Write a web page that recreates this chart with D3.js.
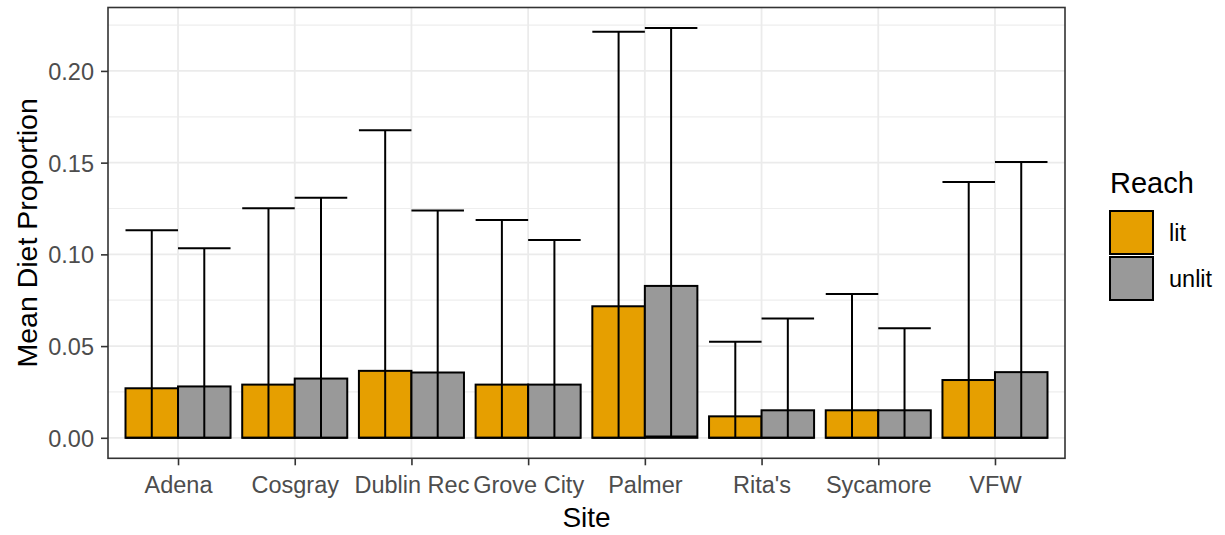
<!DOCTYPE html>
<html>
<head>
<meta charset="utf-8">
<script src="https://cdn.jsdelivr.net/npm/d3@7"></script>
<style>
  body { margin: 0; background: #fff; }
  text { font-family: "Liberation Sans", Arial, sans-serif; }
</style>
</head>
<body>
<script>
// data
var sites = ["Adena", "Cosgray", "Dublin Rec", "Grove City", "Palmer", "Rita's", "Sycamore", "VFW"];
var reaches = ["lit", "unlit"];
var meanLit   = [0.0270, 0.0290, 0.0365, 0.0290, 0.0717, 0.0117, 0.0150, 0.0315];
var meanUnlit = [0.0280, 0.0323, 0.0356, 0.0290, 0.0828, 0.0150, 0.0150, 0.0358];
var upperLit   = [0.1132, 0.1252, 0.1676, 0.1187, 0.2214, 0.0524, 0.0784, 0.1395];
var upperUnlit = [0.1034, 0.1309, 0.1239, 0.1078, 0.2234, 0.0651, 0.0597, 0.1504];
var lowerLit   = [0, 0, 0, 0, 0, 0, 0, 0];
var lowerUnlit = [0, 0, 0, 0, 0.0007, 0, 0, 0];
var yTicks = [0, 0.05, 0.10, 0.15, 0.20];
var colors = {lit: "#E69F00", unlit: "#999999"};

var W = 1225, H = 535;
var panel = {left: 108, right: 1065, top: 7.5, bottom: 458.3};

// long table
var rows = [];
sites.forEach(function(s, i) {
  rows.push({site: s, reach: "lit", mean: meanLit[i], lo: lowerLit[i], hi: upperLit[i]});
  rows.push({site: s, reach: "unlit", mean: meanUnlit[i], lo: lowerUnlit[i], hi: upperUnlit[i]});
});

var svg = d3.select("body").append("svg")
  .attr("width", W).attr("height", H);

// scales (ggplot-like expansion)
var x = d3.scalePoint().domain(sites).range([panel.left, panel.right]).padding(0.6);
var step = x.step();
var dodge = d3.scaleBand().domain(reaches).range([-0.45 * step, 0.45 * step]);

var yMax = d3.max(rows, function(d) { return d.hi; });
var yMin = 0;
var ex = (yMax - yMin) * 0.05;
var y = d3.scaleLinear().domain([yMin - ex, yMax + ex]).range([panel.bottom, panel.top]);

// grid
var g = svg.append("g");
var minor = d3.range(0.025, yMax + ex, 0.05);
g.selectAll(".minor").data(minor).enter().append("line")
  .attr("x1", panel.left).attr("x2", panel.right)
  .attr("y1", function(d) { return y(d); }).attr("y2", function(d) { return y(d); })
  .attr("stroke", "#EEEEEE").attr("stroke-width", 1.2);
g.selectAll(".major").data(yTicks).enter().append("line")
  .attr("x1", panel.left).attr("x2", panel.right)
  .attr("y1", function(d) { return y(d); }).attr("y2", function(d) { return y(d); })
  .attr("stroke", "#EBEBEB").attr("stroke-width", 1.8);
g.selectAll(".vmajor").data(sites).enter().append("line")
  .attr("y1", panel.top).attr("y2", panel.bottom)
  .attr("x1", function(d) { return x(d); }).attr("x2", function(d) { return x(d); })
  .attr("stroke", "#EBEBEB").attr("stroke-width", 1.8);

// bars
svg.append("g").selectAll("rect").data(rows).enter().append("rect")
  .attr("x", function(d) { return x(d.site) + dodge(d.reach); })
  .attr("width", dodge.bandwidth())
  .attr("y", function(d) { return y(d.mean); })
  .attr("height", function(d) { return y(0) - y(d.mean); })
  .attr("fill", function(d) { return colors[d.reach]; })
  .attr("stroke", "#000").attr("stroke-width", 2);

// error bars
var eb = svg.append("g").selectAll("g").data(rows).enter().append("g")
  .attr("stroke", "#000").attr("stroke-width", 2);
eb.append("line")
  .attr("x1", function(d) { return x(d.site) + dodge(d.reach) + dodge.bandwidth() / 2; })
  .attr("x2", function(d) { return x(d.site) + dodge(d.reach) + dodge.bandwidth() / 2; })
  .attr("y1", function(d) { return y(d.lo); })
  .attr("y2", function(d) { return y(d.hi); });
eb.append("line")
  .attr("x1", function(d) { return x(d.site) + dodge(d.reach); })
  .attr("x2", function(d) { return x(d.site) + dodge(d.reach) + dodge.bandwidth(); })
  .attr("y1", function(d) { return y(d.hi); })
  .attr("y2", function(d) { return y(d.hi); });
eb.append("line")
  .attr("x1", function(d) { return x(d.site) + dodge(d.reach); })
  .attr("x2", function(d) { return x(d.site) + dodge(d.reach) + dodge.bandwidth(); })
  .attr("y1", function(d) { return y(d.lo); })
  .attr("y2", function(d) { return y(d.lo); });

// panel border
svg.append("rect")
  .attr("x", panel.left).attr("y", panel.top)
  .attr("width", panel.right - panel.left).attr("height", panel.bottom - panel.top)
  .attr("fill", "none").attr("stroke", "#333333").attr("stroke-width", 1.6);

// axes
var yAxis = d3.axisLeft(y).tickValues(yTicks).tickFormat(d3.format(".2f")).tickSize(7).tickPadding(7);
var ya = svg.append("g").attr("transform", "translate(" + panel.left + ",0)").call(yAxis);
var xAxis = d3.axisBottom(x).tickSize(7).tickPadding(5);
var xa = svg.append("g").attr("transform", "translate(0," + panel.bottom + ")").call(xAxis);
[ya, xa].forEach(function(a) {
  a.select(".domain").remove();
  a.selectAll(".tick line").attr("stroke", "#333333").attr("stroke-width", 1.6);
  a.selectAll(".tick text").attr("fill", "#4D4D4D")
    .style("font-size", "23.5px").style("font-family", "'Liberation Sans', Arial, sans-serif");
});
xa.selectAll(".tick text").attr("dy", null).attr("y", 35);
ya.selectAll(".tick text").attr("dy", "0.36em");

// axis titles
svg.append("text")
  .attr("x", (panel.left + panel.right) / 2).attr("y", 527)
  .attr("text-anchor", "middle").style("font-size", "28px").text("Site");
svg.append("text")
  .attr("transform", "translate(37," + ((panel.top + panel.bottom) / 2) + ") rotate(-90)")
  .attr("text-anchor", "middle").style("font-size", "28.5px").text("Mean Diet Proportion");

// legend
var lg = svg.append("g").attr("transform", "translate(1110,0)");
lg.append("text").attr("x", 0).attr("y", 193).style("font-size", "29px").text("Reach");
var item = lg.selectAll(".item").data(reaches).enter().append("g")
  .attr("transform", function(d, i) { return "translate(0," + (211 + i * 46) + ")"; });
item.append("rect").attr("width", 43).attr("height", 43)
  .attr("fill", function(d) { return colors[d]; })
  .attr("stroke", "#000").attr("stroke-width", 2);
item.append("text").attr("x", 59).attr("y", 21.5).attr("dy", "0.36em")
  .style("font-size", "23.5px").attr("fill", "#000").text(function(d) { return d; });
</script>
</body>
</html>
